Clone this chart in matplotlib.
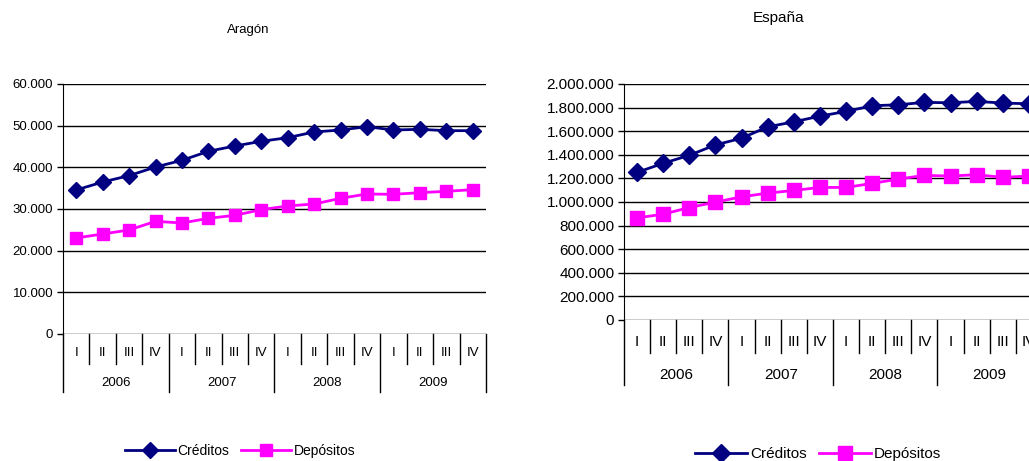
"""Créditos y depósitos trimestrales: Aragón vs España, 2006-2009."""

import matplotlib
matplotlib.use("Agg")
import matplotlib.pyplot as plt
from matplotlib.ticker import FuncFormatter

plt.rcParams["font.family"] = ["Liberation Sans", "DejaVu Sans"]

YEARS = ["2006", "2007", "2008", "2009"]
QUARTERS = ["I", "II", "III", "IV"]

# Aragón (millones de euros)
aragon_creditos = [34560, 36480, 38000, 40080, 41680, 43840, 45120, 46240,
                   47120, 48480, 48960, 49760, 48960, 49120, 48800, 48800]
aragon_depositos = [23040, 24000, 24960, 27040, 26640, 27760, 28480, 29840,
                    30720, 31200, 32560, 33600, 33520, 33920, 34240, 34640]

# España (millones de euros)
espana_creditos = [1251000, 1327700, 1395700, 1483700, 1540400, 1636900, 1679400, 1727700,
                   1767400, 1815600, 1824100, 1844000, 1841100, 1852500, 1838300, 1832600]
espana_depositos = [865200, 896500, 953200, 998600, 1044000, 1075200, 1097900, 1123400,
                    1123400, 1157400, 1194300, 1225500, 1219900, 1231200, 1208500, 1219900]

NAVY = "#000080"
MAGENTA = "#FF00FF"


def thousands(v, pos):
    return f"{int(v):,}".replace(",", ".")


def draw_panel(ax, creditos, depositos, ymax, ystep, fs, q_line, y_line, q_lab, y_lab, ms):
    x = [i + 0.5 for i in range(len(creditos))]
    l1, = ax.plot(x, creditos, "-D", color=NAVY, lw=2.0, ms=ms, label="Créditos",
                  clip_on=False, zorder=5)
    l2, = ax.plot(x, depositos, "-s", color=MAGENTA, lw=2.0, ms=ms + 1, label="Depósitos",
                  clip_on=False, zorder=4)

    ax.set_xlim(0, 16)
    ax.set_ylim(0, ymax)
    ax.set_yticks(range(0, ymax + 1, ystep))
    ax.yaxis.set_major_formatter(FuncFormatter(thousands))
    ax.tick_params(axis="y", labelsize=fs, length=4, width=1, color="black", pad=3)
    ax.set_xticks([])
    ax.grid(axis="y", color="black", lw=1)
    ax.set_axisbelow(True)
    for side in ["top", "right", "bottom"]:
        ax.spines[side].set_visible(False)
    ax.spines["left"].set_color("black")

    # multi-level category axis drawn below the plot
    tr = ax.get_xaxis_transform()
    for k in range(17):
        bottom = y_line if k % 4 == 0 else q_line
        ax.plot([k, k], [0, bottom], color="black", lw=1, transform=tr, clip_on=False)
    for k in range(16):
        ax.text(k + 0.5, q_lab, QUARTERS[k % 4], transform=tr, ha="center", va="center",
                fontsize=fs)
    for j, yr in enumerate(YEARS):
        ax.text(j * 4 + 2, y_lab, yr, transform=tr, ha="center", va="center", fontsize=fs)
    return l1, l2


def main():
    fig = plt.figure(figsize=(10.29, 4.61), dpi=100)

    ax1 = fig.add_axes([0.0612, 0.2755, 0.4111, 0.5423])
    h = draw_panel(ax1, aragon_creditos, aragon_depositos, 60000, 10000, 9.5,
                   -0.12, -0.232, -0.076, -0.196, 8)
    fig.text(248 / 1029, 1 - 30 / 461, "Aragón", ha="center", va="center", fontsize=9.5)
    fig.legend(h, ["Créditos", "Depósitos"], loc="center", ncol=2, frameon=False,
               bbox_to_anchor=(240 / 1029, 1 - 451 / 461), fontsize=10,
               handlelength=3.6, handletextpad=0.2, columnspacing=0.8)

    ax2 = fig.add_axes([0.6064, 0.3059, 0.4062, 0.5119])
    h = draw_panel(ax2, espana_creditos, espana_depositos, 2000000, 200000, 11,
                   -0.14, -0.275, -0.093, -0.233, 9)
    fig.text(779 / 1029, 1 - 18 / 461, "España", ha="center", va="center", fontsize=11)
    fig.legend(h, ["Créditos", "Depósitos"], loc="center", ncol=2, frameon=False,
               bbox_to_anchor=(818 / 1029, 1 - 454 / 461), fontsize=11,
               handlelength=3.4, handletextpad=0.2, columnspacing=0.8)

    fig.savefig("out.png", dpi=100)
    plt.close(fig)


if __name__ == "__main__":
    main()
